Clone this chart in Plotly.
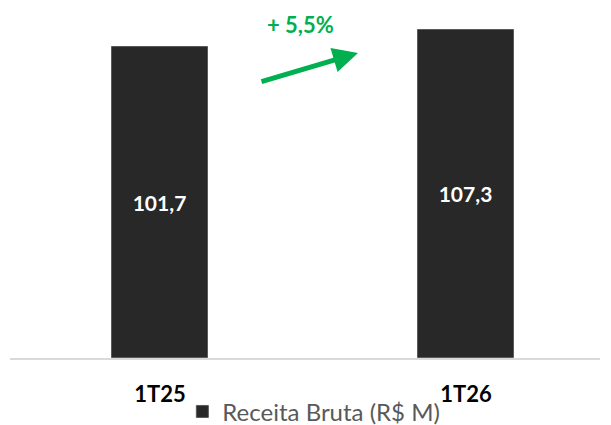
import plotly.graph_objects as go

categories = ["1T25", "1T26"]
receita = [101.7, 107.3]
series_name = "Receita Bruta (R$ M)"
growth_label = "+ 5,5%"

fig = go.Figure()
fig.add_trace(go.Bar(
    x=categories, y=receita, name=series_name,
    width=0.314,
    marker=dict(color="#282828", line=dict(color="#5a5a5a", width=1)),
    texttemplate="%{y:.1f}", textposition="inside", insidetextanchor="middle",
    textfont=dict(family="Lato", size=21, color="white", weight="bold"),
    showlegend=True,
))

fig.add_annotation(
    xref="paper", yref="paper", x=(358 - 10) / 590, y=(358 - 53) / 352,
    ax=260 - 358, ay=82 - 53, axref="pixel", ayref="pixel",
    showarrow=True, arrowhead=2, arrowsize=1.0, arrowwidth=5, arrowcolor="#00B050", text="",
)
fig.add_annotation(
    xref="paper", yref="paper", x=(300 - 10) / 590, y=(358 - 25) / 352,
    text=growth_label, showarrow=False, yanchor="middle",
    font=dict(family="Lato", size=22, color="#00B050", weight="bold"),
)

fig.update_layout(
    width=611, height=425,
    margin=dict(l=10, r=11, t=6, b=67, autoexpand=False),
    paper_bgcolor="white", plot_bgcolor="white",
    separators=",.",
    bargap=0,
    xaxis=dict(type="category", range=[-0.49, 1.438], showline=True, linecolor="#d9d9d9", linewidth=1.5,
               showgrid=False, ticks="", ticklabelstandoff=16,
               tickfont=dict(family="Lato", size=22, color="black", weight="bold")),
    yaxis=dict(range=[0, 115.1], visible=False),
    legend=dict(orientation="h", x=0.515, xanchor="center", y=-0.153, yanchor="middle",
                bgcolor="rgba(0,0,0,0)",
                font=dict(family="Lato", size=24, color="#595959"), itemwidth=30),
)

fig.write_html("out.html", config={"displayModeBar": False},
               post_script="document.body.style.margin='0';")
